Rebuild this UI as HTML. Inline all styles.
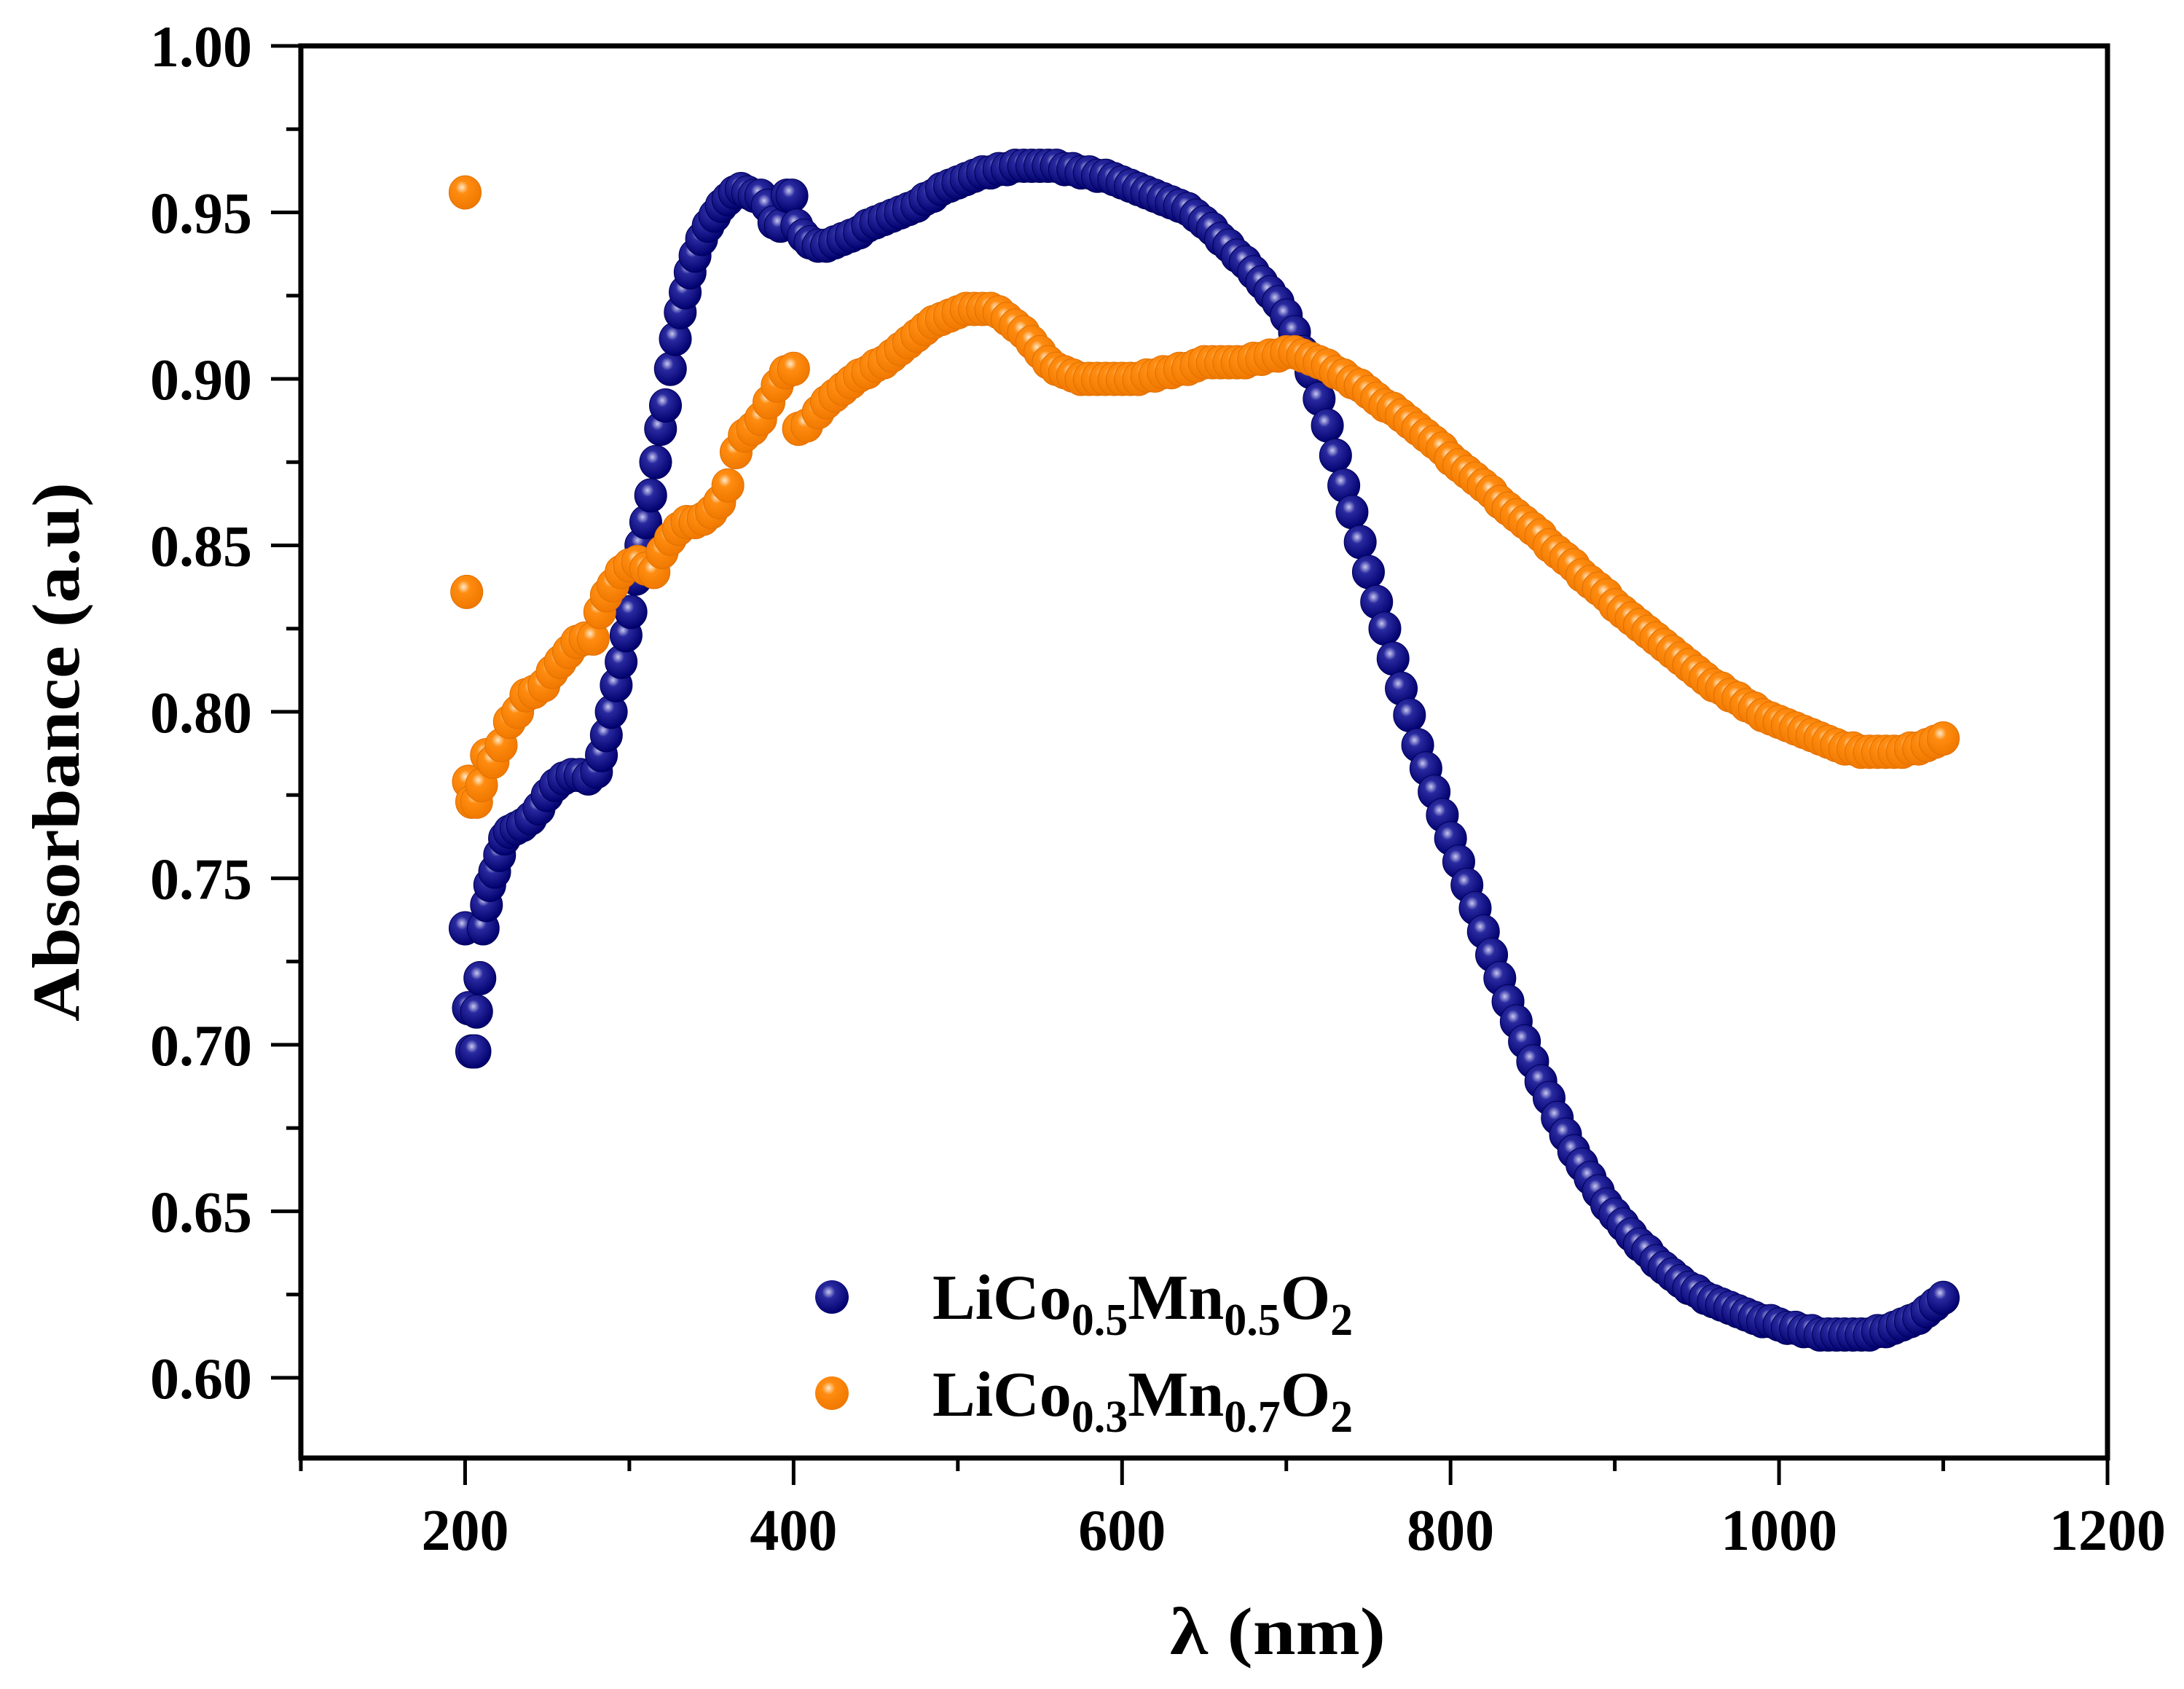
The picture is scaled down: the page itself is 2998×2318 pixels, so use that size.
<!DOCTYPE html>
<html><head><meta charset="utf-8"><style>
html,body{margin:0;padding:0;background:#fff;}
svg{display:block;}
text{font-family:"Liberation Serif","Times New Roman","DejaVu Serif",serif;font-weight:bold;fill:#000;}
</style></head><body>
<svg id="chart" width="2998" height="2318" viewBox="0 0 2998 2318" xmlns="http://www.w3.org/2000/svg">
<defs>
<radialGradient id="gBlue" cx="0.4" cy="0.35" r="0.65">
<stop offset="0" stop-color="#c8c8f0"/><stop offset="0.3" stop-color="#2a2aa0"/><stop offset="1" stop-color="#00006e"/>
</radialGradient>
<radialGradient id="gOrange" cx="0.4" cy="0.35" r="0.65">
<stop offset="0" stop-color="#ffe8c8"/><stop offset="0.3" stop-color="#ff8c10"/><stop offset="1" stop-color="#f07800"/>
</radialGradient>
</defs>
<g id="marks"></g>
<g id="axes"></g>
</svg>
<script>
const xTicks = [200, 400, 600, 800, 1000, 1200];
const xMinor = [100, 300, 500, 700, 900, 1100];
const yTicks = [0.60, 0.65, 0.70, 0.75, 0.80, 0.85, 0.90, 0.95, 1.00];
const yTickLabels = ["0.60","0.65","0.70","0.75","0.80","0.85","0.90","0.95","1.00"];

const blueX = [200,202,204,206,207,209,211,213,215,218,221,224,227,231,235,240,245,250,255,260,265,270,275,280,283,286,289,292,295,298,301,304,307,310,313,316,319,322,325,328,331,334,337,340,344,348,352,356,360,364,368,372,376,380,384,388,392,396,399,402,406,410,415,
420,425,430,435,440,445,450,455,460,465,470,475,480,485,490,495,500,505,510,515,520,525,530,535,540,545,550,555,560,565,570,575,580,585,590,595,600,605,610,615,620,625,630,635,640,645,650,655,660,665,670,675,680,685,690,695,700,
705,710,715,720,725,730,735,740,745,750,755,760,765,770,775,780,785,790,795,800,805,810,815,820,825,830,835,840,845,850,855,860,865,870,875,880,885,890,895,
900,905,910,915,920,925,930,935,940,945,950,955,960,965,970,975,980,985,990,995,1000,1005,1010,1015,1020,1025,1030,1035,1040,1045,1050,1055,1060,1065,1070,1075,1080,1085,1090,1095,1100];
const blueY = [.735,.711,.698,.698,.710,.720,.735,.742,.748,.752,.757,.762,.764,.765,.766,.768,.771,.775,.778,.780,.781,.781,.780,.782,.787,.793,.800,.808,.815,.823,.830,.840,.850,.857,.865,.875,.885,.892,.903,.912,.920,.926,.932,.937,.942,.946,.949,.952,.954,.956,.957,.956,.955,.955,.952,.947,.946,.955,.955,.946,.943,.941,.940,
.940,.941,.942,.943,.944,.946,.947,.948,.949,.950,.951,.952,.954,.955,.957,.958,.959,.960,.961,.962,.962,.963,.963,.964,.964,.964,.964,.964,.964,.963,.963,.962,.962,.961,.961,.960,.959,.958,.957,.956,.955,.954,.953,.952,.951,.949,.947,.945,.942,.940,.937,.935,.932,.929,.926,.923,.919,
.914,.908,.902,.894,.886,.877,.868,.860,.851,.842,.833,.825,.816,.807,.799,.790,.783,.776,.769,.762,.755,.748,.741,.734,.727,.720,.713,.707,.701,.695,.689,.684,.678,.673,.668,.664,.660,.656,.652,
.649,.646,.643,.640,.638,.635,.633,.631,.629,.627,.626,.624,.623,.622,.621,.620,.619,.618,.617,.617,.616,.615,.615,.614,.614,.613,.613,.613,.613,.613,.613,.613,.614,.614,.615,.616,.617,.618,.620,.622,.624];

const orangeX = [200,201,202,204,207,210,213,217,222,227,232,237,242,248,253,258,263,268,273,278,282,286,290,295,300,305,310,315,320,325,330,335,340,345,350,355,360,365,370,375,380,385,390,395,400,403,408,415,
420,425,430,435,440,445,450,455,460,465,470,475,480,485,490,495,500,505,510,515,520,525,530,535,540,545,550,555,560,565,570,575,580,585,590,595,600,605,610,615,620,625,630,635,640,645,650,655,660,665,670,675,680,685,690,695,700,
705,710,715,720,725,730,735,740,745,750,755,760,765,770,775,780,785,790,795,800,805,810,815,820,825,830,835,840,845,850,855,860,865,870,875,880,885,890,895,
900,905,910,915,920,925,930,935,940,945,950,955,960,965,970,975,980,985,990,995,1000,1005,1010,1015,1020,1025,1030,1035,1040,1045,1050,1055,1060,1065,1070,1075,1080,1085,1090,1095,1100];
const orangeY = [.956,.836,.779,.773,.773,.778,.787,.785,.790,.797,.800,.805,.806,.808,.812,.815,.818,.821,.822,.822,.830,.835,.838,.842,.844,.845,.843,.842,.848,.852,.855,.857,.857,.858,.860,.863,.868,.878,.883,.885,.888,.893,.898,.902,.903,.885,.886,.890,
.893,.895,.897,.899,.901,.902,.904,.905,.907,.909,.911,.913,.915,.917,.918,.919,.920,.921,.921,.921,.921,.920,.918,.916,.914,.911,.908,.905,.903,.902,.901,.900,.900,.900,.900,.900,.900,.900,.900,.901,.901,.902,.902,.903,.903,.904,.905,.905,.905,.905,.905,.905,.906,.906,.907,.907,.908,
.908,.907,.906,.905,.904,.902,.901,.899,.898,.896,.894,.892,.891,.889,.887,.885,.883,.881,.879,.876,.874,.872,.870,.868,.866,.863,.861,.859,.857,.855,.853,.850,.848,.846,.844,.841,.839,.837,.835,
.832,.830,.828,.826,.824,.822,.820,.818,.816,.814,.812,.810,.808,.807,.805,.804,.802,.801,.799,.798,.797,.796,.795,.794,.793,.792,.791,.790,.789,.789,.788,.788,.788,.788,.788,.788,.789,.789,.790,.791,.792];

const NS = "http://www.w3.org/2000/svg";
const L = 413, R = 2893, T = 63, B = 2001;
const X0 = 100, X1 = 1200, Y0 = 0.5759, Y1 = 1.0;
function sx(v){ return L + (v - X0) / (X1 - X0) * (R - L); }
function sy(v){ return B - (v - Y0) / (Y1 - Y0) * (B - T); }
function el(tag, attrs, parent){ const e = document.createElementNS(NS, tag); for (const k in attrs) e.setAttribute(k, attrs[k]); parent.appendChild(e); return e; }

const marks = document.getElementById('marks');
const axes = document.getElementById('axes');

function drawSeries(xs, ys, fill, stroke, name){
  const g = el('g', {}, marks);
  
  
  for (let i = 0; i < xs.length; i++){
    const c = el('ellipse', {cx: sx(xs[i]), cy: sy(ys[i]), rx: 22, ry: 23, fill: fill, stroke: stroke, 'stroke-width': 1}, g);
    
    
  }
}
drawSeries(blueX, blueY, 'url(#gBlue)', '#00005a', 'lico05mn05o2');
drawSeries(orangeX, orangeY, 'url(#gOrange)', '#e07000', 'lico03mn07o2');

const frame = el('rect', {x: L, y: T, width: R - L, height: B - T, fill: 'none', stroke: '#000', 'stroke-width': 7}, axes);



xTicks.forEach(v => {
  const t = el('line', {x1: sx(v), x2: sx(v), y1: B, y2: B + 37, stroke: '#000', 'stroke-width': 5}, axes);
  
  
  const lb = el('text', {x: sx(v), y: 2127, 'font-size': 80, 'text-anchor': 'middle'}, axes);
  lb.textContent = String(v);
  
  
});
xMinor.forEach(v => {
  const t = el('line', {x1: sx(v), x2: sx(v), y1: B, y2: B + 18, stroke: '#000', 'stroke-width': 5}, axes);
  
  
});
yTicks.forEach((v, i) => {
  const t = el('line', {x1: L - 41, x2: L, y1: sy(v), y2: sy(v), stroke: '#000', 'stroke-width': 5}, axes);
  
  
  const lb = el('text', {x: 346, y: sy(v) + 28, 'font-size': 80, 'text-anchor': 'end'}, axes);
  lb.textContent = yTickLabels[i];
  
  
  const mv = v - 0.025;
  if (mv > Y0){
    const m = el('line', {x1: L - 20, x2: L, y1: sy(mv), y2: sy(mv), stroke: '#000', 'stroke-width': 5}, axes);
    
    
  }
});
</script>
<svg style="position:absolute;left:0;top:0" width="2998" height="2318" xmlns="http://www.w3.org/2000/svg">
<text x="1754" y="2270" font-size="92" text-anchor="middle" textLength="296" lengthAdjust="spacingAndGlyphs">λ (nm)</text>
<text transform="translate(108,1032) rotate(-90)" x="0" y="0" font-size="92" text-anchor="middle" textLength="740" lengthAdjust="spacingAndGlyphs">Absorbance (a.u)</text>
<g>
<defs>
<radialGradient id="lgB" cx="0.4" cy="0.35" r="0.65"><stop offset="0" stop-color="#c8c8f0"/><stop offset="0.3" stop-color="#2a2aa0"/><stop offset="1" stop-color="#00006e"/></radialGradient>
<radialGradient id="lgO" cx="0.4" cy="0.35" r="0.65"><stop offset="0" stop-color="#ffe8c8"/><stop offset="0.3" stop-color="#ff8c10"/><stop offset="1" stop-color="#f07800"/></radialGradient>
</defs>
<ellipse cx="1142" cy="1780" rx="23" ry="23" fill="url(#lgB)"/>
<text x="1280" y="1810" font-size="88">LiCo<tspan font-size="62" dy="22">0.5</tspan><tspan dy="-22">Mn</tspan><tspan font-size="62" dy="22">0.5</tspan><tspan dy="-22">O</tspan><tspan font-size="62" dy="22">2</tspan></text>
<ellipse cx="1142" cy="1912" rx="23" ry="23" fill="url(#lgO)"/>
<text x="1280" y="1943" font-size="88">LiCo<tspan font-size="62" dy="22">0.3</tspan><tspan dy="-22">Mn</tspan><tspan font-size="62" dy="22">0.7</tspan><tspan dy="-22">O</tspan><tspan font-size="62" dy="22">2</tspan></text>
</g>
</svg>
</body></html>
